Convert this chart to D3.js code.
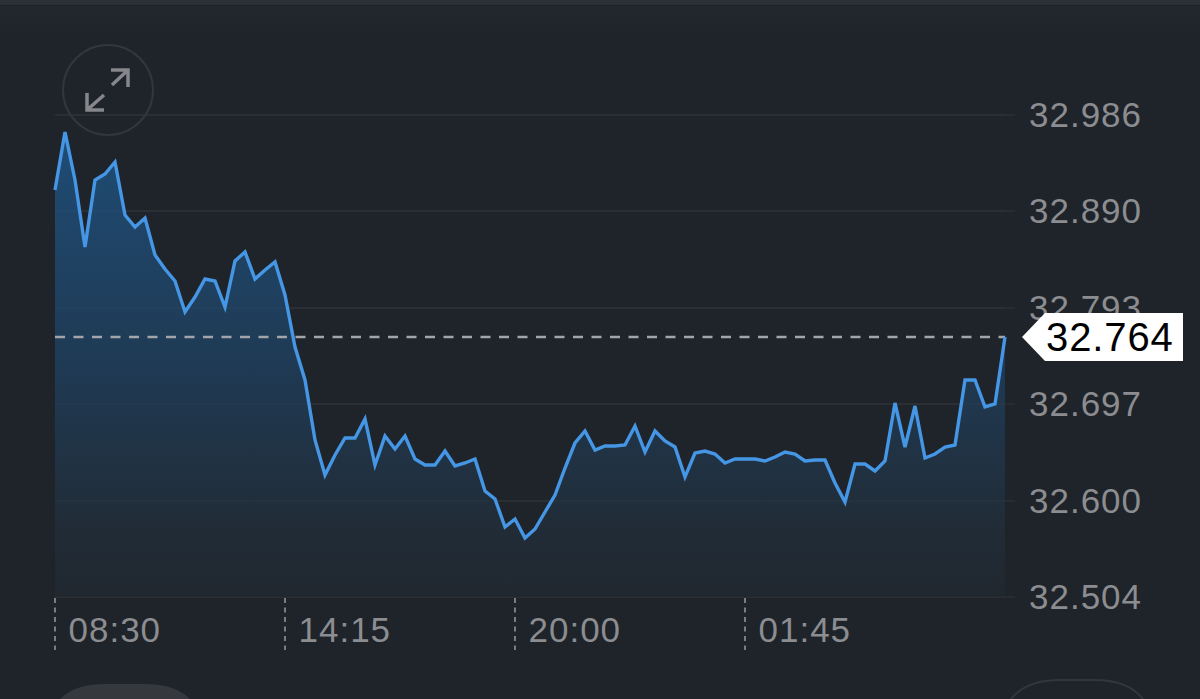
<!DOCTYPE html>
<html>
<head>
<meta charset="utf-8">
<script src="https://cdn.jsdelivr.net/npm/d3@7"></script>
<style>
html,body{margin:0;padding:0;background:#1f232a;overflow:hidden}
svg{display:block}
text{font-family:"Liberation Sans",Arial,sans-serif}
</style>
</head>
<body>
<svg id="c" width="1200" height="699"></svg>
<script>
const prices = [
32.911,32.969,32.921,32.854,32.921,32.927,32.939,32.886,32.874,32.883,
32.846,32.832,32.820,32.789,32.804,32.822,32.820,32.794,32.840,32.849,
32.822,32.831,32.839,32.806,32.754,32.721,32.661,32.626,32.646,32.663,
32.663,32.682,32.636,32.665,32.652,32.665,32.642,32.636,32.636,32.650,
32.635,32.638,32.642,32.610,32.602,32.574,32.582,32.563,32.572,32.589,
32.606,32.633,32.658,32.670,32.651,32.655,32.655,32.656,32.675,32.649,
32.670,32.660,32.654,32.624,32.648,32.650,32.647,32.638,32.642,32.642,
32.642,32.640,32.644,32.649,32.647,32.640,32.641,32.641,32.618,32.599,
32.637,32.637,32.630,32.640,32.698,32.654,32.695,32.643,32.647,32.654,
32.656,32.721,32.721,32.694,32.697,32.764];
const yTicks = ["32.986","32.890","32.793","32.697","32.600","32.504"];
const timeLabels = ["08:30","14:15","20:00","01:45"];
const timeIndex = [0,23,46,69];
const lastPrice = "32.764";

const svg = d3.select("#c");
const x = d3.scaleLinear().domain([0,prices.length-1]).range([55,1005]);
const y = d3.scaleLinear().domain([32.504,32.986]).range([597,115]);

const defs = svg.append("defs");
const bg = defs.append("linearGradient").attr("id","bgG").attr("x1",0).attr("x2",0).attr("y1",0).attr("y2",1);
bg.append("stop").attr("offset","0").attr("stop-color","#232830");
bg.append("stop").attr("offset","0.06").attr("stop-color","#1f232a");
bg.append("stop").attr("offset","1").attr("stop-color","#1f232a");
const g = defs.append("linearGradient").attr("id","areaG").attr("gradientUnits","userSpaceOnUse")
  .attr("x1",0).attr("x2",0).attr("y1",y(32.969)).attr("y2",y(32.504));
g.append("stop").attr("offset","0").attr("stop-color","#1f4c75");
g.append("stop").attr("offset","0.5").attr("stop-color","#1f3a54");
g.append("stop").attr("offset","0.85").attr("stop-color","#212c37");
g.append("stop").attr("offset","1").attr("stop-color","#20272f");

svg.append("rect").attr("width",1200).attr("height",699).attr("fill","url(#bgG)");

// top strip
svg.append("rect").attr("width",1200).attr("height",5).attr("fill","#2b3037");
svg.append("rect").attr("y",5).attr("width",1200).attr("height",1).attr("fill","#1c2026");

// gridlines
svg.append("g").selectAll("line").data(yTicks).join("line")
  .attr("x1",55).attr("x2",1015)
  .attr("y1",d=>y(+d)).attr("y2",d=>y(+d))
  .attr("stroke","#282b30").attr("stroke-width",2);

// area + line
const area = d3.area().x((d,i)=>x(i)).y0(y(32.504)).y1(d=>y(d));
svg.append("path").datum(prices).attr("d",area).attr("fill","url(#areaG)");

// grid over area, faint
svg.append("g").selectAll("line").data(yTicks).join("line")
  .attr("x1",55).attr("x2",1005)
  .attr("y1",d=>y(+d)).attr("y2",d=>y(+d))
  .attr("stroke","#ffffff").attr("stroke-opacity",0.015).attr("stroke-width",2);

// last price dashed
svg.append("line").attr("x1",55).attr("x2",1005)
  .attr("y1",y(+lastPrice)).attr("y2",y(+lastPrice))
  .attr("stroke","#a3a5a8").attr("stroke-width",2.6).attr("stroke-dasharray","10 8.5");

const line = d3.line().x((d,i)=>x(i)).y(d=>y(d));
svg.append("path").datum(prices).attr("d",line).attr("fill","none")
  .attr("stroke","#4596e4").attr("stroke-width",3.4).attr("stroke-linejoin","miter");

// y labels
svg.append("g").selectAll("text").data(yTicks).join("text")
  .attr("x",1029).attr("y",d=>y(+d)+12)
  .attr("fill","#8b8d90").attr("font-size",35).attr("letter-spacing",1).text(d=>d);

// x ticks
svg.append("g").selectAll("line").data(timeIndex).join("line")
  .attr("x1",d=>x(d)).attr("x2",d=>x(d)).attr("y1",598).attr("y2",650)
  .attr("stroke","#85878a").attr("stroke-width",1.8).attr("stroke-dasharray","5 4.5");
svg.append("g").selectAll("text").data(timeLabels).join("text")
  .attr("x",(d,i)=>x(timeIndex[i])+13.5).attr("y",642)
  .attr("fill","#8b8d90").attr("font-size",35).attr("letter-spacing",1).text(d=>d);

// last price tag
const ty = y(+lastPrice);
svg.append("path")
  .attr("d",d3.line()([[1022,ty],[1045,ty-24],[1183,ty-24],[1183,ty+24],[1045,ty+24]])+"Z")
  .attr("fill","#ffffff");
svg.append("text").attr("x",1046).attr("y",ty+14).attr("fill","#000").attr("font-size",40).attr("letter-spacing",0.9).text(lastPrice);

// expand button
const btn = svg.append("g");
btn.append("circle").attr("cx",108).attr("cy",90).attr("r",45).attr("fill","none").attr("stroke","#33363b").attr("stroke-width",2);
btn.append("path").attr("d","M112 85L128 70M111 70H128V87M104 95L87 110M87 93V110H104")
  .attr("fill","none").attr("stroke","#85878a").attr("stroke-width",3.5);

// bottom buttons
svg.append("path").attr("d","M60 699C70 689 85 684 105 684H145C165 684 180 689 190 699Z").attr("fill","#35383d");
svg.append("path").attr("d","M1011 699C1022 685 1040 680 1060 680H1095C1115 680 1132 685 1143 699")
  .attr("fill","none").attr("stroke","#33363b").attr("stroke-width",2);
</script>
</body>
</html>
